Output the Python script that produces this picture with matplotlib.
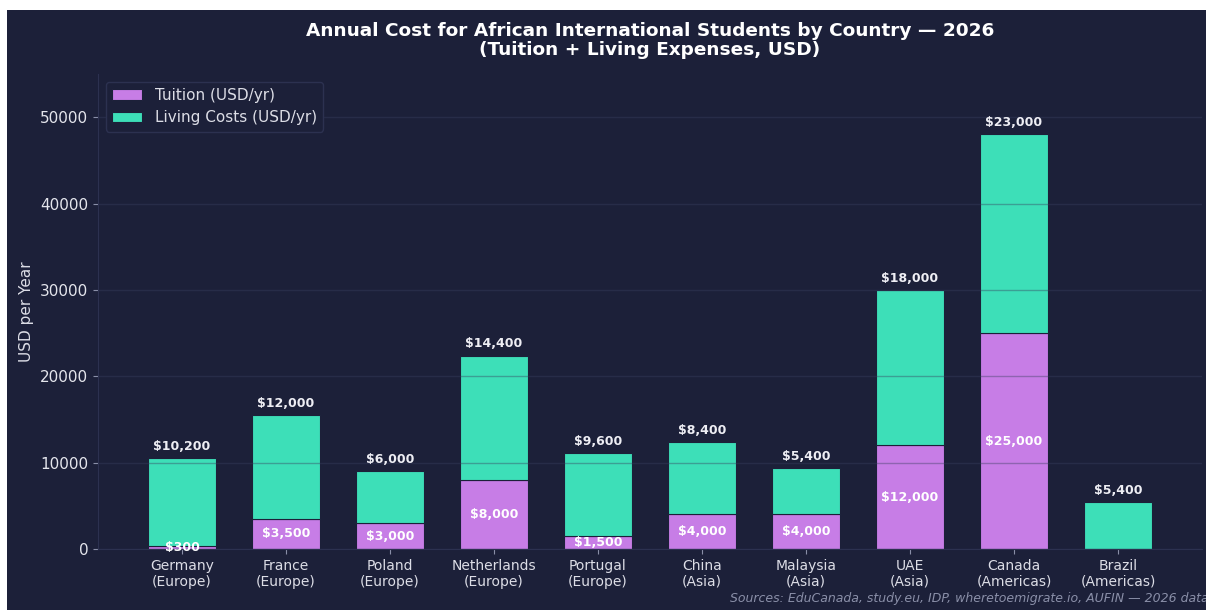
import numpy as np
import matplotlib.pyplot as plt
from matplotlib.patches import Rectangle

countries = ["Germany\n(Europe)", "France\n(Europe)", "Poland\n(Europe)", "Netherlands\n(Europe)",
             "Portugal\n(Europe)", "China\n(Asia)", "Malaysia\n(Asia)", "UAE\n(Asia)",
             "Canada\n(Americas)", "Brazil\n(Americas)"]
tuition = [300, 3500, 3000, 8000, 1500, 4000, 4000, 12000, 25000, 0]
living = [10200, 12000, 6000, 14400, 9600, 8400, 5400, 18000, 23000, 5400]

BG = "#1c2039"
TEAL = "#3ddfb8"
PURPLE = "#c77de6"
TXT = "#dcdde6"

fig = plt.figure(figsize=(12.06, 6.10), dpi=100, facecolor="white")
# dark panel (the reference has a thin white strip on the top and left)
fig.patches.append(Rectangle((7 / 1206, 0), 1 - 7 / 1206, 600 / 610, transform=fig.transFigure,
                             facecolor=BG, edgecolor="none", zorder=-10))

ax = fig.add_axes([98 / 1206, 61 / 610, (1202 - 98) / 1206, (536 - 61) / 610])
ax.set_facecolor(BG)

x = np.arange(len(countries))
b1 = ax.bar(x, tuition, width=0.65, color=PURPLE, edgecolor=BG, linewidth=0.8, label="Tuition (USD/yr)")
b2 = ax.bar(x, living, width=0.65, bottom=tuition, color=TEAL, edgecolor=BG, linewidth=0.8,
            label="Living Costs (USD/yr)")

for i in range(len(x)):
    if tuition[i] > 0:
        ax.text(x[i], tuition[i] / 2, f"${tuition[i]:,}", ha="center", va="center",
                color="white", fontsize=9, fontweight="bold")
    ax.text(x[i], tuition[i] + living[i] + 600, f"${living[i]:,}", ha="center", va="bottom",
            color="#eeeef4", fontsize=9, fontweight="bold")

ax.set_ylim(0, 55000)
ax.set_xticks(x)
ax.set_xticklabels(countries, fontsize=10, color=TXT)
ax.tick_params(axis="x", colors="#8a8fa8", labelcolor=TXT)
ax.tick_params(axis="y", labelsize=11, colors="#8a8fa8", labelcolor="#e4e5ec")
ax.set_ylabel("USD per Year", fontsize=11, color=TXT)
ax.yaxis.set_label_coords(-0.058, 0.5)

ax.grid(axis="y", color="#3a4060", alpha=0.4, linewidth=1)
for s in ["top", "right"]:
    ax.spines[s].set_visible(False)
for s in ["left", "bottom"]:
    ax.spines[s].set_color("#2c3150")

ax.set_title("Annual Cost for African International Students by Country — 2026\n(Tuition + Living Expenses, USD)",
             fontsize=13.3, fontweight="bold", color="white", pad=14, linespacing=1.05)

leg = ax.legend(loc="upper left", fontsize=11, facecolor=BG, edgecolor="#2c3150",
                labelcolor=TXT, framealpha=1)

fig.text(1.002, 5 / 610, "Sources: EduCanada, study.eu, IDP, wheretoemigrate.io, AUFIN — 2026 data",
         ha="right", va="bottom", fontsize=9, style="italic", color="#8a8fa8")

fig.savefig("out.png", dpi=100, facecolor=fig.get_facecolor())
